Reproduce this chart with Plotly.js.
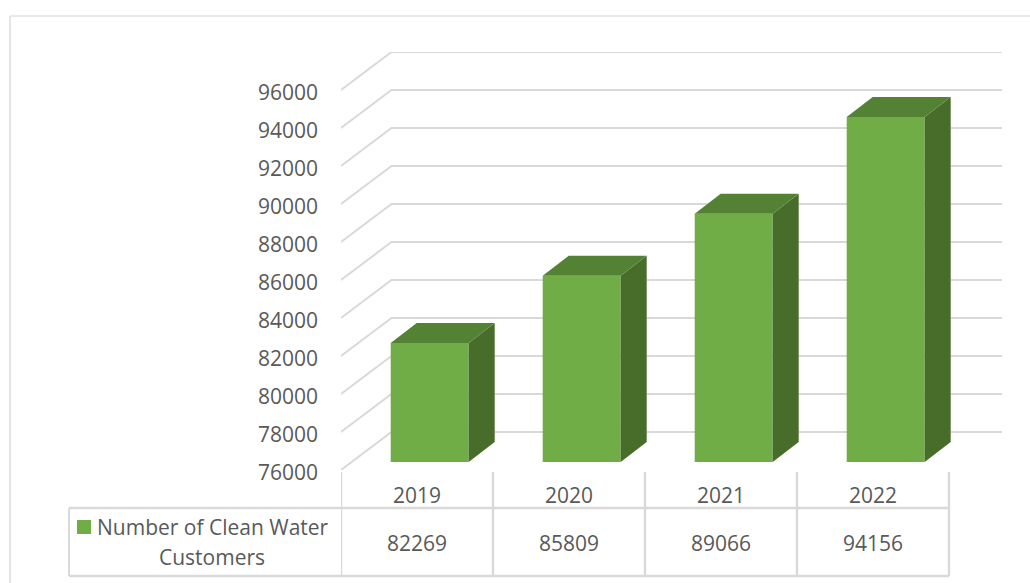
<!DOCTYPE html>
<html>
<head>
<meta charset="utf-8">
<script src="https://cdn.plot.ly/plotly-3.0.1.min.js"></script>
<style>html,body{margin:0;padding:0;background:#fff;overflow:hidden}</style>
</head>
<body>
<div id="chart" style="width:1030px;height:583px"></div>
<script>
const categories = ['2019', '2020', '2021', '2022'];
const customers = [82269, 85809, 89066, 94156];
const axisTicks = [76000, 78000, 80000, 82000, 84000, 86000, 88000, 90000, 92000, 94000, 96000];
const seriesNameLines = ['Number of Clean Water', 'Customers'];

const W = 1030, H = 583;
const px = v => v / W, py = v => 1 - v / H;
const UNIT = 152;              // px per category
const VAL = 19 / 1000;         // px per value unit
const wallDx = 50.5 / UNIT, wallDv = 38 / VAL;
const depthDx = 26 / UNIT, depthDv = 20 / VAL;
const barW = 78 / UNIT;
const xEnd = (1002 - 341) / UNIT - 0.5;
const base = axisTicks[0];
const GRID = '#d9d9d9', TXT = '#595959';
const FRONT = '#70ad47', TOP = '#548235', SIDE = '#486d2a';

// wall grid: front edge -> back wall -> right end
const gx = [], gy = [];
axisTicks.forEach(v => {
  gx.push(-0.5, -0.5 + wallDx, xEnd, null);
  gy.push(v, v + wallDv, v + wallDv, null);
});
const traces = [{
  type: 'scatter', mode: 'lines', x: gx, y: gy, xaxis: 'x', yaxis: 'y',
  line: {color: GRID, width: 2}, hoverinfo: 'skip', showlegend: false, connectgaps: false
}, {
  // carries the labelled value axis (plotly only draws axes that have a trace)
  type: 'scatter', mode: 'markers', x: axisTicks.map(() => -0.5), y: axisTicks, xaxis: 'x', yaxis: 'y3',
  marker: {opacity: 0, size: 1}, hoverinfo: 'skip', showlegend: false
}];

const idx = categories.map((c, i) => i);
customers.forEach((v, i) => {
  const r = i + barW / 2, l = i - barW / 2;
  traces.push({
    type: 'scatter', mode: 'lines', fill: 'toself', fillcolor: SIDE, line: {width: 0, color: SIDE},
    x: [r, r + depthDx, r + depthDx, r, r], y: [base, base + depthDv, v + depthDv, v, base],
    xaxis: 'x2', yaxis: 'y2', hoverinfo: 'skip', showlegend: false
  });
  traces.push({
    type: 'scatter', mode: 'lines', fill: 'toself', fillcolor: TOP, line: {width: 0, color: TOP},
    x: [l, l + depthDx, r + depthDx, r, l], y: [v, v + depthDv, v + depthDv, v, v],
    xaxis: 'x2', yaxis: 'y2', hoverinfo: 'skip', showlegend: false
  });
});
traces.push({
  type: 'bar', x: idx, y: customers.map(v => v - base), base: base, width: barW,
  marker: {color: FRONT, line: {width: 0}}, xaxis: 'x2', yaxis: 'y2', showlegend: false,
  name: seriesNameLines.join(' ')
});

const hline = (x0, x1, y) => ({type: 'line', xref: 'paper', yref: 'paper', x0: px(x0), x1: px(x1), y0: py(y), y1: py(y), line: {color: GRID, width: 2.4}});
const shapes = [
  {type: 'line', xref: 'paper', yref: 'paper', x0: px(10), x1: px(10), y0: py(16), y1: 0, line: {color: '#e4e4e4', width: 2}},
  {type: 'line', xref: 'paper', yref: 'paper', x0: px(10), x1: 1, y0: py(16), y1: py(16), line: {color: '#e8e8e8', width: 2}},
  hline(69, 949, 508),
  hline(69, 949, 576),
  {type: 'line', xref: 'paper', yref: 'paper', x0: px(69), x1: px(69), y0: py(508), y1: py(576), line: {color: GRID, width: 2}},
  {type: 'rect', xref: 'paper', yref: 'paper', x0: px(77), x1: px(91), y0: py(520), y1: py(534), fillcolor: FRONT, line: {width: 0}}
];
for (let i = 0; i <= categories.length; i++) {
  shapes.push({type: 'line', xref: 'x', yref: 'paper', x0: i - 0.5, x1: i - 0.5, y0: py(472), y1: py(576), line: {color: GRID, width: 2.4}});
}

const fnt = {family: '"Open Sans", sans-serif', size: 21, color: TXT};
const annotations = customers.map((v, i) => ({
  xref: 'x', yref: 'paper', x: i, y: py(543), text: String(v), showarrow: false,
  xanchor: 'center', yanchor: 'middle', font: fnt
}));
annotations.push({xref: 'paper', yref: 'paper', x: px(95), y: py(527), text: seriesNameLines[0], showarrow: false, xanchor: 'left', yanchor: 'middle', font: fnt});
annotations.push({xref: 'paper', yref: 'paper', x: px(212), y: py(557), text: seriesNameLines[1], showarrow: false, xanchor: 'center', yanchor: 'middle', font: fnt});

const layout = {
  width: W, height: H, margin: {l: 0, r: 0, t: 0, b: 0, pad: 0},
  paper_bgcolor: '#fff', plot_bgcolor: 'rgba(0,0,0,0)', showlegend: false, barmode: 'overlay',
  font: fnt, shapes, annotations,
  xaxis: {
    domain: [px(341), px(1002)], range: [-0.5, xEnd], anchor: 'y', tickmode: 'array',
    tickvals: idx, ticktext: categories, ticks: '', showgrid: false, zeroline: false, showline: false,
    ticklabelstandoff: 11, tickfont: fnt, fixedrange: true
  },
  yaxis: {
    domain: [py(470), py(52)], range: [base, base + 418 / VAL], anchor: 'x', visible: false, fixedrange: true
  },
  xaxis2: {
    domain: [px(353.7), px(961.7)], range: [-0.5, 3.5], anchor: 'y2', visible: false, fixedrange: true
  },
  yaxis2: {
    domain: [py(462), py(44)], range: [base, base + 418 / VAL], anchor: 'x2', visible: false, fixedrange: true
  },
  yaxis3: {
    domain: [py(473), py(55)], range: [base, base + 418 / VAL], anchor: 'x', tickmode: 'array',
    tickvals: axisTicks, ticktext: axisTicks.map(String), ticks: '', showgrid: false, zeroline: false, showline: false,
    ticklabelstandoff: 22, tickfont: fnt, fixedrange: true
  }
};
Plotly.newPlot('chart', traces, layout, {displayModeBar: false, responsive: false});
</script>
</body>
</html>
